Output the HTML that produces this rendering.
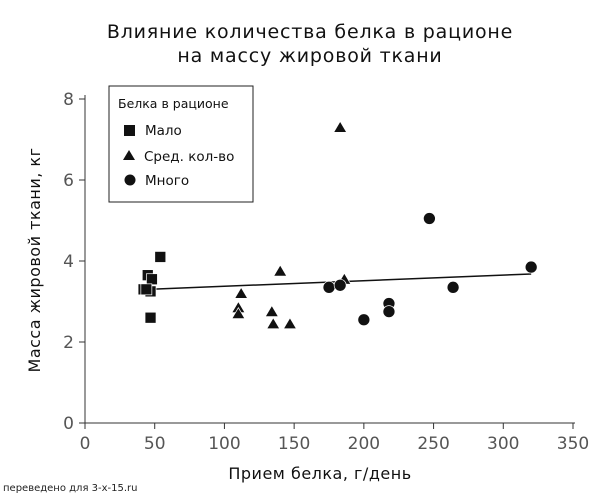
<!DOCTYPE html>
<html><head><meta charset="utf-8"><style>
body{margin:0;background:#fff;font-family:"Liberation Sans","DejaVu Sans",sans-serif;}
svg text{font-family:"DejaVu Sans","Liberation Sans",sans-serif;}
</style></head><body>
<svg width="600" height="495" xmlns="http://www.w3.org/2000/svg">
<text x="310" y="38" text-anchor="middle" font-size="19" letter-spacing="0.8" fill="#111">Влияние количества белка в рационе</text>
<text x="310" y="62" text-anchor="middle" font-size="19" letter-spacing="0.8" fill="#111">на массу жировой ткани</text>
<g id="axes"></g>
<g id="marks"></g>
<text x="320" y="479" text-anchor="middle" font-size="16" letter-spacing="0.5" fill="#111">Прием белка, г/день</text>
<text transform="translate(40,260) rotate(-90)" text-anchor="middle" font-size="16" letter-spacing="0.5" fill="#111">Масса жировой ткани, кг</text>
<text x="3" y="491" font-size="10" fill="#222">переведено для 3-x-15.ru</text>
<g>
<rect x="109" y="86" width="144" height="116" fill="#fff" stroke="#222" stroke-width="1"/>
<text x="118" y="108" font-size="12.5" fill="#111">Белка в рационе</text>
<rect x="124" y="125" width="11" height="11" fill="#111"/>
<text x="145" y="135" font-size="13.5" fill="#111">Мало</text>
<polygon points="129,150 135,160 123,160" fill="#111"/>
<text x="144" y="161" font-size="13.5" fill="#111">Сред. кол-во</text>
<circle cx="130" cy="180" r="5.5" fill="#111"/>
<text x="145" y="185" font-size="13.5" fill="#111">Много</text>
</g>
</svg>
<script>
const xTicks=[0,50,100,150,200,250,300,350];
const yTicks=[0,2,4,6,8];
const lowX=[42,45,48,47,54,47,44];
const lowY=[3.3,3.65,3.55,3.25,4.1,2.6,3.3];
const midX=[183,112,110,110,134,135,147,140,186];
const midY=[7.3,3.2,2.85,2.7,2.75,2.45,2.45,3.75,3.55];
const highX=[175,183,247,320,264,218,218,200];
const highY=[3.35,3.4,5.05,3.85,3.35,2.95,2.75,2.55];
const trendX=[45,320];
const trendY=[3.3,3.68];
const NS='http://www.w3.org/2000/svg';
const sx=v=>85+v*(488/350);
const sy=v=>423-v*(324/8);
function mk(t,a,p){const e=document.createElementNS(NS,t);for(const k in a)e.setAttribute(k,a[k]);p.appendChild(e);return e;}
const ax=document.getElementById('axes'),mg=document.getElementById('marks');
let l=mk('line',{x1:85,y1:423,x2:575,y2:423,stroke:'#333','stroke-width':1},ax);

l=mk('line',{x1:85,y1:95,x2:85,y2:423,stroke:'#333','stroke-width':1},ax);

xTicks.forEach(v=>{const x=sx(v);mk('line',{x1:x,y1:423,x2:x,y2:429,stroke:'#333'},ax);
const t=mk('text',{x:x,y:449,'text-anchor':'middle','font-size':17,fill:'#555'},ax);t.textContent=v;
});
yTicks.forEach(v=>{const y=sy(v);mk('line',{x1:79,y1:y,x2:85,y2:y,stroke:'#333'},ax);
const t=mk('text',{x:74,y:y+6,'text-anchor':'end','font-size':17,fill:'#555'},ax);t.textContent=v;
});
l=mk('line',{x1:sx(trendX[0]),y1:sy(trendY[0]),x2:sx(trendX[1]),y2:sy(trendY[1]),stroke:'#111','stroke-width':1.5},mg);

lowX.forEach((v,i)=>{const e=mk('rect',{x:sx(v)-5.5,y:sy(lowY[i])-5.5,width:11,height:11,fill:'#111',stroke:'#fff','stroke-width':0.7},mg);
});
midX.forEach((v,i)=>{const x=sx(v),y=sy(midY[i]);const e=mk('polygon',{points:`${x},${y-6} ${x+6.5},${y+5} ${x-6.5},${y+5}`,fill:'#111',stroke:'#fff','stroke-width':0.7},mg);
});
highX.forEach((v,i)=>{const e=mk('circle',{cx:sx(v),cy:sy(highY[i]),r:6,fill:'#111',stroke:'#fff','stroke-width':0.7},mg);
});
</script>
</body></html>
